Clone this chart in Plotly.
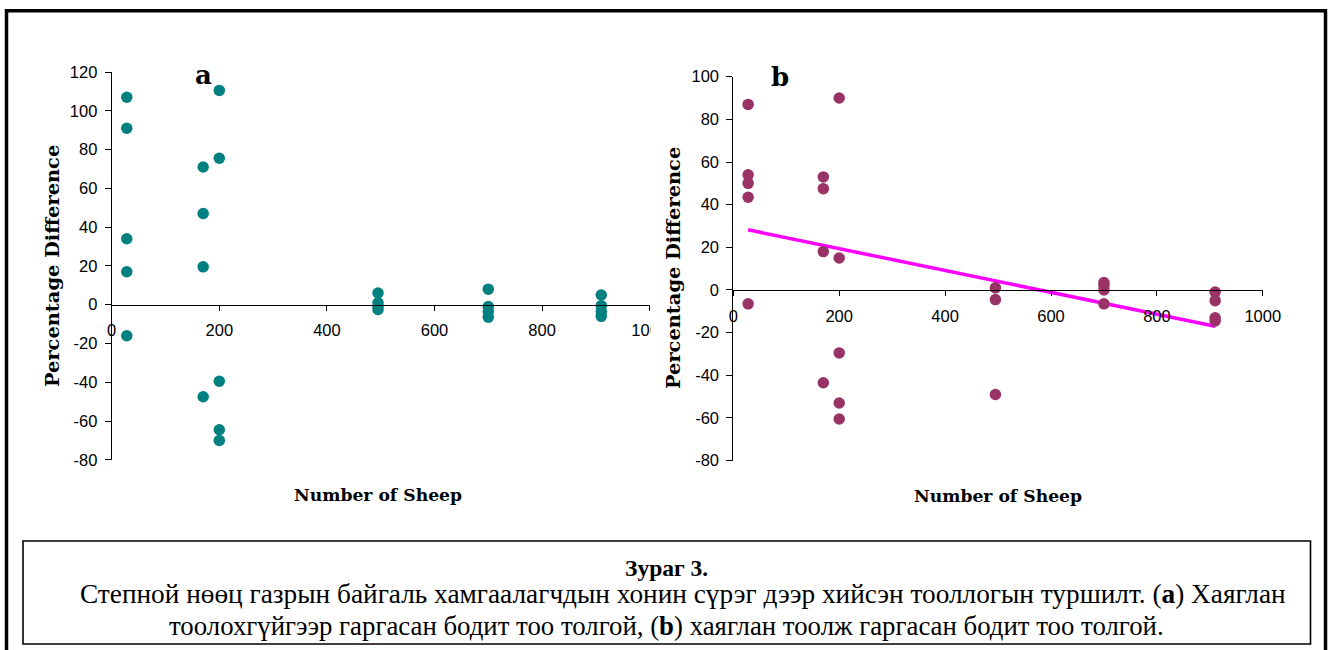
import plotly.graph_objects as go

# ---------------- data ----------------
a_x = [28, 28, 28, 28, 28, 170, 170, 170, 170, 200, 200, 200, 200, 200,
       495, 495, 495, 495, 700, 700, 700, 700, 910, 910, 910, 910]
a_y = [107, 91, 34, 17, -16, 71, 47, 19.5, -47.5, 110.5, 75.5, -39.5, -64.5, -70,
       6, 1, -1, -2.5, 8, -1, -3.5, -6.5, 5, -0.5, -3.5, -6]

b_x = [28, 28, 28, 28, 28, 170, 170, 170, 170, 200, 200, 200, 200, 200,
       495, 495, 495, 700, 700, 700, 700, 910, 910, 910, 910]
b_y = [87, 54, 50, 43.5, -6.5, 53, 47.5, 18, -43.5, 90, 15, -29.5, -53, -60.5,
       1, -4.5, -49, 3.5, 2, 0, -6.5, -1, -5, -13, -14.5]

trend_x = [28, 910]
trend_y = [28.2, -17]

x_ticks = [0, 200, 400, 600, 800, 1000]
x_ticktext = ["0", "200", "400", "600", "800", "1000"]
a_yticks = [-80, -60, -40, -20, 0, 20, 40, 60, 80, 100, 120]
a_yticktext = ["-80", "-60", "-40", "-20", "0", "20", "40", "60", "80", "100", "120"]
b_yticks = [-80, -60, -40, -20, 0, 20, 40, 60, 80, 100]
b_yticktext = ["-80", "-60", "-40", "-20", "0", "20", "40", "60", "80", "100"]

x_title = "Number of Sheep"
y_title = "Percentage Difference"
caption_title = "Зураг 3."
caption_l1 = "Степной нөөц газрын байгаль хамгаалагчдын хонин сүрэг дээр хийсэн тооллогын туршилт. (<b>a</b>) Хаяглан"
caption_l2 = "тоолохгүйгээр гаргасан бодит тоо толгой, (<b>b</b>) хаяглан тоолж гаргасан бодит тоо толгой."

# ---------------- layout geometry (pixels) ----------------
W, H = 1329, 650
def px(x): return x / W
def py(y): return 1 - y / H

a_xdom = [px(111.7), px(649.7)]
a_ydom = [py(459.8), py(72.0)]
b_xdom = [px(733.3), px(1262.8)]
b_ydom = [py(460.6), py(76.7)]
a_yr = [-80, 120]
b_yr = [-80, 100]

def zero_pos(dom, rng):
    return dom[0] + (0 - rng[0]) / (rng[1] - rng[0]) * (dom[1] - dom[0])

TEAL = "#008080"
MAROON = "#993366"
MAGENTA = "#FF00FF"
TICKFONT = dict(family="Liberation Sans, Arial", size=16.5, color="black")
TITLEFONT = dict(family="DejaVu Serif", size=19.4, color="black")

fig = go.Figure()
fig.add_trace(go.Scatter(x=a_x, y=a_y, mode="markers", xaxis="x", yaxis="y",
                         marker=dict(color=TEAL, size=11.5), showlegend=False,
                         cliponaxis=False))
fig.add_trace(go.Scatter(x=trend_x, y=trend_y, mode="lines", xaxis="x2", yaxis="y2",
                         line=dict(color=MAGENTA, width=3.5), showlegend=False))
fig.add_trace(go.Scatter(x=b_x, y=b_y, mode="markers", xaxis="x2", yaxis="y2",
                         marker=dict(color=MAROON, size=11.5), showlegend=False,
                         cliponaxis=False))

xcommon = dict(range=[0, 1000], tickvals=x_ticks, ticktext=x_ticktext,
               showline=True, linecolor="black", linewidth=1, ticks="outside",
               ticklen=5, tickcolor="black", tickwidth=1, showgrid=False,
               zeroline=False, tickfont=TICKFONT, anchor="free",
               ticklabelstandoff=6, fixedrange=True, automargin=False)
ycommon = dict(showline=True, linecolor="black", linewidth=1, ticks="outside",
               ticklen=6, tickcolor="black", tickwidth=1, showgrid=False,
               zeroline=False, tickfont=TICKFONT, ticklabelstandoff=4,
               fixedrange=True, automargin=False)

fig.update_layout(
    width=W, height=H, autosize=False,
    margin=dict(l=0, r=0, t=0, b=0, pad=0),
    paper_bgcolor="white", plot_bgcolor="rgba(0,0,0,0)",
    xaxis=dict(domain=a_xdom, position=zero_pos(a_ydom, a_yr), **xcommon),
    yaxis=dict(domain=a_ydom, range=a_yr, tickvals=a_yticks, ticktext=a_yticktext,
               anchor="x", **ycommon),
    xaxis2=dict(domain=b_xdom, position=zero_pos(b_ydom, b_yr), **xcommon),
    yaxis2=dict(domain=b_ydom, range=b_yr, tickvals=b_yticks, ticktext=b_yticktext,
                anchor="x2", **ycommon),
)

shapes = [
    # white patch that clips the last tick label of chart a
    dict(type="rect", xref="paper", yref="paper", x0=px(650.5), x1=px(672),
         y0=py(345), y1=py(316), fillcolor="white", line=dict(width=0), layer="above"),
    # outer frame
    dict(type="rect", xref="paper", yref="paper", x0=px(6.5), x1=px(1325.5),
         y0=py(700), y1=py(10.8), line=dict(color="black", width=3.5),
         fillcolor="rgba(0,0,0,0)", layer="above"),
    # caption box
    dict(type="rect", xref="paper", yref="paper", x0=px(23), x1=px(1310.5),
         y0=py(644), y1=py(541), line=dict(color="black", width=1.6),
         fillcolor="rgba(0,0,0,0)", layer="above"),
]
fig.update_layout(shapes=shapes)

ann = []
def add_text(x, y, text, font, angle=0):
    ann.append(dict(x=px(x), y=py(y), xref="paper", yref="paper", text=text,
                    showarrow=False, font=font, textangle=angle,
                    xanchor="center", yanchor="middle"))

add_text(52, 266, "<b>" + y_title + "</b>", TITLEFONT, -90)
add_text(673, 268, "<b>" + y_title + "</b>", TITLEFONT, -90)
add_text(378, 495, "<b>" + x_title + "</b>", dict(TITLEFONT, size=17.2))
add_text(998, 496, "<b>" + x_title + "</b>", dict(TITLEFONT, size=17.2))
add_text(203, 75, "<b>a</b>", dict(family="DejaVu Serif", size=26, color="black"))
add_text(779.5, 77, "<b>b</b>", dict(family="DejaVu Serif", size=26, color="black"))

CAPFONT = dict(family="Liberation Serif, Times New Roman", size=27.3, color="black")
add_text(666, 568, "<b>" + caption_title + "</b>", dict(CAPFONT, size=23.5))
add_text(682.5, 594, caption_l1, CAPFONT)
add_text(666.5, 626, caption_l2, dict(CAPFONT, size=26.8))
fig.update_layout(annotations=ann)

fig.write_html("out.html",
               config={"displayModeBar": False, "staticPlot": True},
               post_script="document.body.style.margin='0';document.body.style.overflow='hidden';")
